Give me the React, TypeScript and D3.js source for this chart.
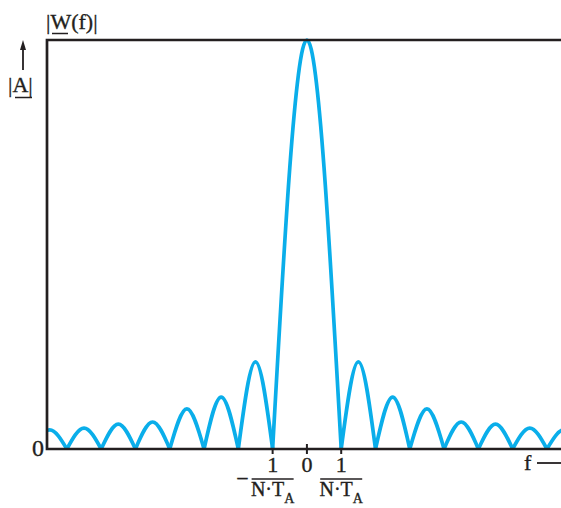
import React from "react";
import * as d3 from "d3";

// Frequency axis in units of 1/(N·T_A); magnitude normalised to main-lobe peak
const mainLobe: [number, number][] = [[-1, 0], [0, 1], [1, 0]];
// side-lobe peak amplitudes, k = 1..8 away from the centre
const rightLobePeaks = [0.213, 0.127, 0.098, 0.066, 0.061, 0.051, 0.047, 0.045];
const leftLobePeaks = [0.213, 0.127, 0.098, 0.066, 0.061, 0.051, 0.047, 0.045];
const tickValues = [-1, 0, 1];
const xDomain: [number, number] = [-7.58, 7.41];
const yDomain: [number, number] = [0, 1];

const W = 561, H = 508;
const left = 47, right = 561, top = 40, bottom = 449;
const ink = "#231f20";
const blue = "#0aaeea";
const serif = "'Liberation Serif', 'DejaVu Serif', serif";
const txt = { fontFamily: serif, fill: ink, stroke: ink, strokeWidth: 0.35 };

export default function App() {
  const x = d3.scaleLinear().domain(xDomain).range([left, right]);
  const y = d3.scaleLinear().domain(yDomain).range([bottom, top]);
  const line = d3
    .line<[number, number]>()
    .x((d) => x(d[0]))
    .y((d) => y(d[1]))
    .curve(d3.curveNatural);

  const lobes: [number, number][][] = [mainLobe];
  rightLobePeaks.forEach((a, i) => {
    const k = i + 1;
    lobes.push([[k, 0], [k + 0.5, a], [k + 1, 0]]);
  });
  leftLobePeaks.forEach((a, i) => {
    const k = i + 1;
    lobes.push([[-k - 1, 0], [-k - 0.5, a], [-k, 0]]);
  });

  const fraction = (v: number) => {
    const cx = x(v);
    return (
      <g key={"f" + v} {...txt}>
        {v < 0 && (
          <text x={cx - 24} y={486} fontSize={22} textAnchor="end">
            −
          </text>
        )}
        <text x={cx} y={472} fontSize={22} textAnchor="middle">1</text>
        <line x1={cx - 21} x2={cx + 21} y1={479} y2={479} stroke={ink} strokeWidth={1.5} />
        <text x={cx} y={496} fontSize={20} textAnchor="middle">
          N·T<tspan fontSize={14} dy={7}>A</tspan>
        </text>
      </g>
    );
  };

  return (
    <svg
      width={W}
      height={H}
      style={{ position: "absolute", left: 0, top: 0, background: "#fff" }}
    >
      <defs>
        <clipPath id="plot">
          <rect x={left + 1} y={top - 10} width={right - left} height={bottom - top + 12} />
        </clipPath>
      </defs>

      {/* curve */}
      <g clipPath="url(#plot)">
        {lobes.map((pts, i) => (
          <path
            key={i}
            d={line(pts) || ""}
            fill="none"
            stroke={blue}
            strokeWidth={3.7}
            strokeLinejoin="round"
          />
        ))}
      </g>

      {/* frame */}
      <path
        d={`M${right},${top}H${left}V${bottom}H${right}`}
        fill="none"
        stroke={ink}
        strokeWidth={2.7}
      />

      {/* ticks */}
      {tickValues.map((v) => (
        <line
          key={"t" + v}
          x1={x(v)}
          x2={x(v)}
          y1={v === 0 ? bottom - 5 : bottom}
          y2={bottom + 5}
          stroke={ink}
          strokeWidth={2}
        />
      ))}
      <text x={x(0)} y={472} fontSize={22} textAnchor="middle" {...txt}>
        0
      </text>
      {tickValues.filter((v) => v !== 0).map(fraction)}

      {/* y zero label */}
      <text x={44} y={456} fontSize={24} textAnchor="end" {...txt}>
        0
      </text>

      {/* title |W(f)| */}
      <text x={46} y={29} fontSize={22} {...txt}>
        |W(f)|
      </text>
      <line x1={52} x2={68} y1={33.5} y2={33.5} stroke={ink} strokeWidth={1.5} />

      {/* |A| with arrow */}
      <text x={8} y={92} fontSize={22} {...txt}>
        |A|
      </text>
      <line x1={15} x2={32} y1={97.5} y2={97.5} stroke={ink} strokeWidth={1.5} />
      <line x1={23} x2={23} y1={47} y2={70} stroke={ink} strokeWidth={1.8} />
      <path d="M23,40L26,50L20,50Z" fill={ink} />

      {/* f arrow */}
      <text x={524} y={470} fontSize={22} {...txt}>
        f
      </text>
      <line x1={537} x2={561} y1={463} y2={463} stroke={ink} strokeWidth={1.8} />
    </svg>
  );
}
